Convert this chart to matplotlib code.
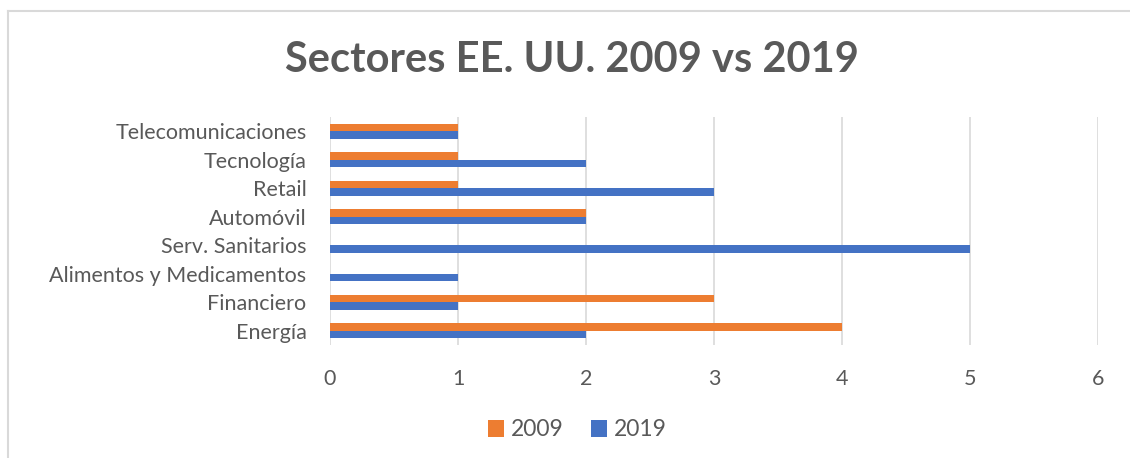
import matplotlib
matplotlib.use("Agg")
import matplotlib.pyplot as plt
from matplotlib.lines import Line2D
from matplotlib.patches import Patch
import numpy as np

categories = ["Energía", "Financiero", "Alimentos y Medicamentos", "Serv. Sanitarios",
              "Automóvil", "Retail", "Tecnología", "Telecomunicaciones"]
values_2009 = [4, 3, 0, 0, 2, 1, 1, 1]
values_2019 = [2, 1, 1, 5, 2, 3, 2, 1]
series_labels = ["2009", "2019"]
x_ticks = [0, 1, 2, 3, 4, 5, 6]
title = "Sectores EE. UU. 2009 vs 2019"

ORANGE = "#ED7D31"
BLUE = "#4472C4"
TXT = "#595959"
GRID = "#D9D9D9"

plt.rcParams['font.family'] = ['Lato', 'DejaVu Sans']

fig = plt.figure(figsize=(11.3, 4.58), dpi=100)
ax = fig.add_axes([330/1130, 1-345/458, (1098-330)/1130, (345-117)/458])

y = np.arange(len(categories))
h = 0.26
ax.barh(y + h/2, values_2009, height=h, color=ORANGE, label=series_labels[0], zorder=3)
ax.barh(y - h/2, values_2019, height=h, color=BLUE, label=series_labels[1], zorder=3)

ax.set_ylim(-0.5, len(categories) - 0.5)
ax.set_xlim(0, 6)
ax.set_xticks(x_ticks)
ax.set_xticklabels([str(t) for t in x_ticks])
ax.set_yticks(y)
ax.set_yticklabels(categories)
ax.tick_params(axis='both', length=0, colors=TXT, labelsize=15.5)
ax.tick_params(axis='x', pad=17)
ax.tick_params(axis='y', pad=17)
ax.grid(axis='x', color=GRID, linewidth=1.2, zorder=0)
for s in ax.spines.values():
    s.set_visible(False)

fig.text(0.506, 1-60/458, title, ha='center', va='center', fontsize=30,
         fontweight='bold', color=TXT)

handles = [Patch(facecolor=ORANGE, label=series_labels[0]),
           Patch(facecolor=BLUE, label=series_labels[1])]
fig.legend(handles=handles, loc='center', bbox_to_anchor=(577/1130, 1-430/458), ncol=2,
           frameon=False, fontsize=16.5, labelcolor=TXT, handlelength=0.7, handleheight=0.7,
           handletextpad=0.3, columnspacing=1.2)

# chart border (top and left edges visible)
fig.add_artist(Line2D([8/1130, 8/1130], [0, 1-11/458], transform=fig.transFigure,
                      color="#D9D9D9", linewidth=1.5))
fig.add_artist(Line2D([8/1130, 1], [1-11/458, 1-11/458], transform=fig.transFigure,
                      color="#D9D9D9", linewidth=1.5))

fig.savefig("out.png", dpi=100)
